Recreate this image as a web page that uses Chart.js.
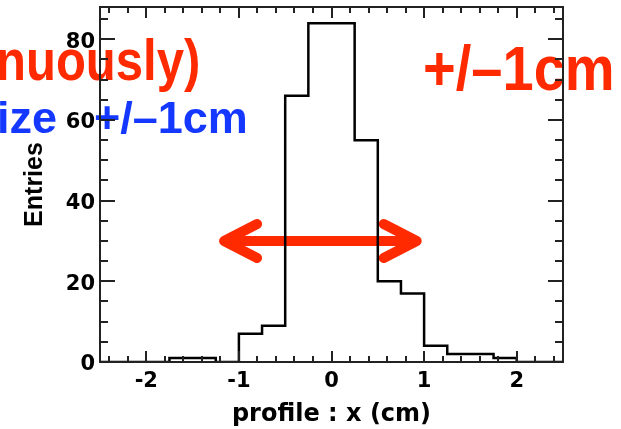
<!DOCTYPE html>
<html>
<head>
<meta charset="utf-8">
<script src="https://cdn.jsdelivr.net/npm/chart.js@4.4.1/dist/chart.umd.min.js"></script>
<style>
  html, body { margin: 0; padding: 0; background: #fff; }
  #wrap { width: 621px; height: 429px; }
</style>
</head>
<body>
<div id="wrap"><canvas id="profileChart" width="621" height="429"></canvas></div>
<script>
// ==================== Data ====================
// lower bin edges (cm) and entries per bin
const binLow = [-2.5, -2.25, -2.0, -1.75, -1.5, -1.25, -1.0, -0.75, -0.5, -0.25,
                0.0, 0.25, 0.5, 0.75, 1.0, 1.25, 1.5, 1.75, 2.0, 2.25];
const binHigh = 2.5;
const entries = [0, 0, 0, 1, 1, 0, 7, 9, 66, 84, 84, 55, 20, 17, 4, 2, 2, 1, 0, 0];

const xTicks = [-2, -1, 0, 1, 2];
const yTicks = [0, 20, 40, 60, 80];
const xRange = [-2.5, 2.5];
const yRange = [0, 88];

// the +/-1cm arrow (cm, entries)
const arrowX = [-1.16, 0.92];
const arrowY = 30;

const RED = '#ff2a00';
const BLUE = '#1438ff';
const AXIS = '#222';

// ==================== Helpers ====================

function drawText(ctx, text, x, baseline, size, color, sx, align) {
    ctx.save();
    ctx.translate(x, baseline);
    ctx.scale(sx, 1);
    ctx.font = 'bold ' + size + 'px "Liberation Sans", Arial, sans-serif';
    ctx.fillStyle = color;
    ctx.textAlign = align || 'left';
    ctx.textBaseline = 'alphabetic';
    ctx.fillText(text, 0, 0);
    ctx.restore();
}

// slide annotations sit underneath the plot
const slideText = {
    id: 'slideText',
    beforeDraw(chart) {
        const ctx = chart.ctx;
        const { x, y } = chart.scales;

        drawText(ctx, 'nuously)', -4, 80, 57, RED, 0.86);
        drawText(ctx, '+/\u20131cm', 423, 90, 63, RED, 0.89);
        drawText(ctx, 'ize', 57, 133, 45, BLUE, 1, 'right');
        drawText(ctx, '+/\u20131cm', 94, 133, 45, BLUE, 1);

        const x0 = x.getPixelForValue(arrowX[0]);
        const x1 = x.getPixelForValue(arrowX[1]);
        const yy = y.getPixelForValue(arrowY);
        ctx.save();
        ctx.strokeStyle = RED;
        ctx.lineWidth = 10;
        ctx.lineCap = 'round';
        ctx.lineJoin = 'round';
        ctx.beginPath();
        ctx.moveTo(x0, yy);
        ctx.lineTo(x1, yy);
        ctx.moveTo(x0 + 33, yy - 17);
        ctx.lineTo(x0, yy);
        ctx.lineTo(x0 + 33, yy + 17);
        ctx.moveTo(x1 - 33, yy - 17);
        ctx.lineTo(x1, yy);
        ctx.lineTo(x1 - 33, yy + 17);
        ctx.stroke();
        ctx.restore();
    }
};

// ROOT-style frame with inward ticks on all four sides
const rootFrame = {
    id: 'rootFrame',
    afterDraw(chart) {
        const ctx = chart.ctx;
        const a = chart.chartArea;
        const { x, y } = chart.scales;
        ctx.save();
        ctx.strokeStyle = AXIS;
        ctx.lineWidth = 2;
        ctx.strokeRect(a.left, a.top, a.right - a.left, a.bottom - a.top);
        ctx.beginPath();
        for (let i = -12; i <= 12; i++) {
            const px = Math.round(x.getPixelForValue(i * 0.2));
            const len = i % 5 === 0 ? 11 : 6;
            ctx.moveTo(px, a.bottom);
            ctx.lineTo(px, a.bottom - len);
            ctx.moveTo(px, a.top);
            ctx.lineTo(px, a.top + len);
        }
        for (let i = 1; i <= 17; i++) {
            const py = Math.round(y.getPixelForValue(i * 5));
            const len = i % 4 === 0 ? 15 : 8;
            ctx.moveTo(a.left, py);
            ctx.lineTo(a.left + len, py);
            ctx.moveTo(a.right, py);
            ctx.lineTo(a.right - len, py);
        }
        ctx.stroke();
        ctx.restore();
    }
};

// ==================== Chart ====================

const histPoints = binLow.map((lo, i) => ({ x: lo, y: entries[i] }));
histPoints.push({ x: binHigh, y: entries[entries.length - 1] });

const tickFont = { family: '"DejaVu Sans", sans-serif', size: 21, weight: 'bold' };

new Chart(document.getElementById('profileChart'), {
    type: 'line',
    data: {
        datasets: [{
            data: histPoints,
            stepped: true,
            borderColor: '#000',
            borderWidth: 2.5,
            pointRadius: 0,
            fill: false
        }]
    },
    options: {
        responsive: false,
        animation: false,
        layout: { padding: { top: 7, right: 58, left: 0, bottom: 0 } },
        plugins: {
            legend: { display: false },
            tooltip: { enabled: false }
        },
        scales: {
            x: {
                type: 'linear',
                min: xRange[0],
                max: xRange[1],
                afterBuildTicks: s => { s.ticks = xTicks.map(v => ({ value: v })); },
                afterFit: s => { s.height = 67; s.paddingLeft = 0; s.paddingRight = 0; },
                grid: { display: false, drawTicks: false, tickLength: 0 },
                border: { display: false },
                ticks: { font: tickFont, color: '#000', padding: 7, maxRotation: 0, autoSkip: false },
                title: {
                    display: true,
                    text: 'profile : x (cm)',
                    color: '#000',
                    font: { family: '"DejaVu Sans", sans-serif', size: 24, weight: 'bold' },
                    padding: { top: 0, bottom: 0 }
                }
            },
            y: {
                min: yRange[0],
                max: yRange[1],
                afterBuildTicks: s => { s.ticks = yTicks.map(v => ({ value: v })); },
                afterFit: s => { s.width = 100; s.paddingTop = 0; s.paddingBottom = 0; },
                grid: { display: false, drawTicks: false, tickLength: 0 },
                border: { display: false },
                ticks: { font: tickFont, color: '#000', padding: 5, labelOffset: 3, autoSkip: false },
                title: {
                    display: true,
                    text: 'Entries',
                    color: '#000',
                    font: { family: '"Liberation Sans", Arial, sans-serif', size: 25, weight: 'bold' },
                    padding: { top: 20, bottom: 0 }
                }
            }
        }
    },
    plugins: [slideText, rootFrame]
});
</script>
</body>
</html>
